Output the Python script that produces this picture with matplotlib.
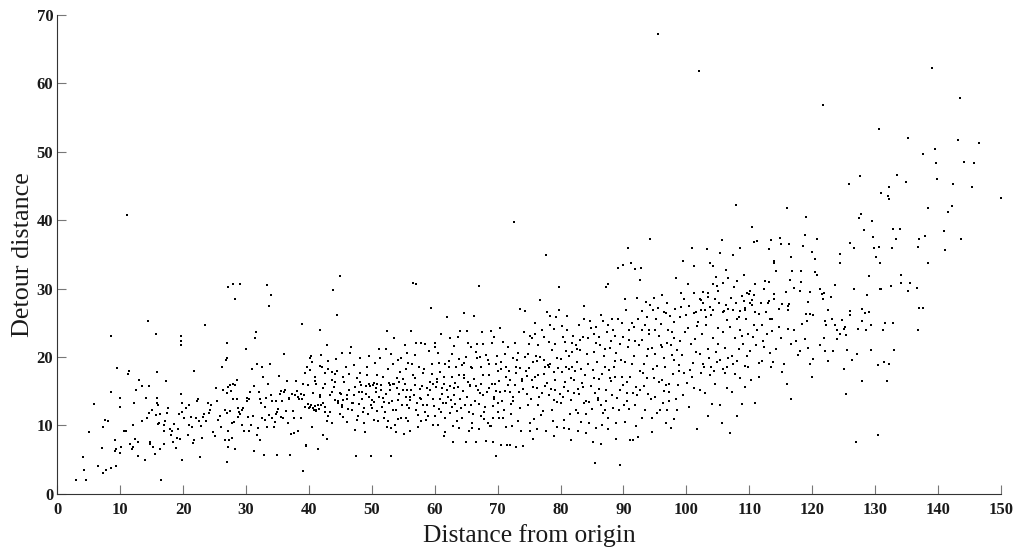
import matplotlib
matplotlib.use("Agg")
import matplotlib.pyplot as plt

plt.rcParams['font.family'] = ['Liberation Serif', 'DejaVu Serif']

# values, grouped by distance band
band_0_20 = [(2.9,2.0),(4.1,5.3),(4.2,3.5),(4.5,2.0),(5.1,9.0),(5.8,13.1),(6.5,4.0),(7.1,6.7),(7.3,3.1),(7.3,9.8),
 (7.6,10.8),(8.0,10.6),(7.8,3.5),(8.5,3.8),(8.6,23.0),(8.6,14.8),(9.1,7.8),(9.1,6.3),(9.4,6.5),(9.4,4.0),
 (9.5,18.4),(10.0,14.0),(10.0,12.7),(10.0,6.0),(10.2,6.8),(10.6,9.2),(11.0,9.2),(11.1,40.8),(11.2,17.5),(11.4,18.0),
 (11.5,7.2),(11.9,6.6),(12.0,10.0),(12.1,6.8),(12.2,13.2),(12.4,8.0),(12.5,15.2),(12.8,7.6),(12.9,5.5),(13.0,16.6),
 (13.4,10.7),(13.5,15.7),(13.9,5.0),(14.1,14.0),(14.3,11.0),(14.4,25.2),(14.5,15.8),(14.6,11.8),(14.8,7.6),(14.8,7.2),
 (15.0,12.3),(15.2,6.8),(15.6,5.8),(15.8,17.8),(16.0,10.2),(16.2,10.3),(16.3,6.6),(16.4,11.7),(16.5,2.0),(15.7,23.3),
 (15.7,11.5),(15.8,13.2),(15.9,14.0),(16.0,13.0),(16.9,7.3),(17.0,10.0),(17.0,9.2),(17.2,10.6),(17.5,11.8),(17.6,12.5),
 (17.3,16.5),(17.9,9.5),(18.0,8.6),(18.2,9.2),(18.4,7.6),(18.6,10.2),(18.9,6.7),(19.1,8.2),(19.2,9.5),(19.4,11.6),
 (19.5,8.0),(19.7,14.6),(19.8,12.0),(19.9,13.3),(19.7,23.0),(19.7,22.3),(19.7,21.7),(19.9,5.0)]
band_20_40 = [(20.2,11.0),(20.4,12.5),(20.7,8.6),(20.9,12.9),(21.0,10.0),(21.2,11.2),(21.4,9.8),(21.6,7.4),(21.7,7.8),(21.8,18.0),
 (22.0,11.0),(22.2,13.5),(22.4,13.9),(22.5,10.6),(22.7,5.4),(22.8,9.9),(23.0,8.2),(23.2,11.2),(23.4,11.6),(23.5,24.7),
 (23.7,10.7),(23.9,13.2),(24.1,11.8),(24.3,12.3),(24.5,13.0),(24.8,9.0),(25.0,8.5),(25.2,15.5),(25.4,13.5),(25.6,10.8),
 (25.8,11.4),(26.0,9.7),(26.2,18.5),(26.4,15.1),(26.6,7.9),(26.8,19.6),(26.9,22.0),(27.0,14.7),(27.1,6.8),(27.2,30.2),
 (27.3,7.8),(27.5,15.9),(27.7,8.1),(27.9,30.7),(28.0,13.8),(28.2,6.5),(28.3,28.4),(28.5,13.8),(28.7,11.2),(28.9,12.0),
 (29.1,30.6),(29.3,12.2),(29.4,10.0),(29.5,12.5),(29.7,9.2),(26.6,12.2),(26.9,11.8),(27.2,9.2),(27.5,12.1),(27.8,10.3),
 (28.1,10.5),(26.9,4.6),(27.0,19.8),(27.2,15.6),(27.6,15.0),(27.9,16.1),(28.2,15.9),(28.6,16.6),(28.8,12.5),(29.0,11.7),
 (30.0,21.2),(30.1,13.5),(30.2,14.0),(30.3,11.2),(30.4,9.2),(30.6,14.9),(30.8,10.0),(31.0,18.2),(31.2,15.8),(31.3,6.2),
 (31.5,22.8),(31.6,23.7),(31.7,8.6),(31.8,18.9),(32.0,14.9),(32.2,7.9),(32.4,13.3),(32.5,18.5),(32.7,17.0),(32.9,5.7),
 (33.0,10.8),(33.2,14.0),(33.3,30.5),(33.5,16.0),(33.6,27.4),(33.8,18.9),(33.9,14.5),(34.0,29.0),(34.2,11.0),(34.4,9.7),
 (34.6,10.5),(34.8,13.5),(34.9,12.0),(35.0,5.6),(35.2,17.2),(35.4,14.6),(35.5,11.2),(35.7,13.6),(35.9,11.0),(36.0,20.5),
 (36.2,15.2),(36.4,12.1),(36.6,10.3),(36.8,14.0),(37.0,5.7),(37.2,8.8),(37.4,12.1),(37.6,8.9),(37.8,14.5),(38.0,16.5),
 (38.1,15.0),(38.3,9.2),(38.5,13.9),(38.7,11.0),(38.9,24.8),(39.0,3.3),(39.2,14.5),(39.4,17.6),(39.6,7.0),(39.8,15.9),
 (32.6,11.1),(33.1,12.7),(33.4,9.8),(34.1,13.6),(34.7,11.7),(35.1,12.4),(35.6,15.0),(36.1,14.8),(36.5,16.5),(36.9,13.9),
 (37.3,14.6),(37.7,11.1),(38.2,14.2),(38.8,14.6),(39.5,7.1),(30.5,13.8),(31.1,11.4),(31.9,9.6),(32.3,13.8),(33.7,11.5)]
band_40_60 = [(40.1,19.9),(40.3,20.2),(40.5,9.8),(40.8,12.2),(41.0,16.5),(41.2,12.1),(41.5,6.5),(41.7,23.9),(41.9,12.9),(42.1,18.5),
 (42.3,8.6),(42.6,12.7),(42.8,8.0),(42.9,21.8),(43.1,19.4),(43.3,12.0),(43.6,17.8),(43.9,29.8),(44.2,17.5),(44.5,26.2),
 (44.7,13.2),(45.0,31.8),(45.2,12.9),(45.6,16.4),(45.9,18.6),(46.1,10.5),(46.4,17.5),(46.7,21.5),(47.0,13.2),(47.3,9.3),
 (47.5,5.5),(47.8,11.3),(48.1,19.9),(48.3,15.9),(48.6,12.0),(48.9,9.0),(49.2,17.4),(49.5,14.1),(49.8,5.5),(50.1,12.6),
 (40.6,12.6),(40.9,12.8),(41.1,12.3),(41.4,13.0),(41.8,14.4),(42.2,15.5),(42.5,11.9),(42.9,10.6),(43.3,14.4),(43.7,10.4),
 (44.1,16.3),(44.6,13.6),(45.1,14.6),(45.5,11.2),(46.0,13.9),(46.3,15.1),(46.8,12.2),(47.1,14.4),(47.6,10.8),(48.0,13.1),
 (48.4,14.9),(48.8,12.6),(49.0,15.8),(49.4,11.6),(49.7,15.8),(50.0,13.7),(50.3,16.2),(50.6,15.5),(51.0,10.6),(51.3,19.9),
 (51.5,15.9),(51.8,14.0),(52.1,12.0),(52.4,23.8),(52.7,16.2),(53.0,5.5),(53.2,13.5),(53.5,22.8),(53.8,9.0),(54.1,19.5),
 (54.4,16.3),(54.8,13.0),(55.1,8.7),(55.4,11.1),(55.7,19.1),(56.0,14.1),(56.3,23.8),(56.6,30.8),(57.0,30.6),(57.3,11.5),
 (57.6,14.0),(57.9,22.0),(58.2,13.0),(58.5,11.9),(58.8,15.4),(59.1,20.9),(59.4,27.2),(59.8,10.0),(60.1,21.4),(60.4,16.4),
 (50.7,14.8),(51.1,14.2),(51.6,12.7),(52.0,13.4),(52.6,10.7),(53.1,9.6),(53.4,16.0),(53.9,12.3),(54.3,14.6),(54.7,11.0),
 (55.0,16.7),(55.5,14.2),(55.9,12.6),(56.2,15.2),(56.8,16.9),(57.2,13.2),(57.7,15.3),(58.1,17.7),(58.6,10.8),(59.0,14.4),
 (59.5,17.5),(59.9,12.8),(50.2,15.9),(52.9,15.1),(54.0,15.4),(55.3,16.0),(56.5,17.3),(58.3,18.2),(59.2,16.4),(53.6,16.1),
 (51.9,11.1),(53.7,10.0),(55.8,10.6),(57.4,9.7),(58.9,11.3),(46.5,20.6),(47.2,18.8),(48.2,17.7),(49.3,18.6),(50.5,19.1),
 (52.2,21.2),(54.6,19.8),(55.2,21.7),(56.9,20.3),(58.4,21.9)]
band_60_80 = [(60.3,16.7),(60.6,20.6),(60.9,17.8),(61.1,15.4),(61.4,8.4),(61.6,9.0),(61.8,13.2),(62.0,25.8),(62.3,18.5),(62.6,13.7),
 (62.9,7.5),(63.2,16.2),(63.5,10.6),(63.8,19.7),(64.1,13.8),(64.4,18.8),(64.7,26.4),(65.0,7.5),(65.3,22.0),(65.6,15.7),
 (65.9,9.6),(66.2,16.7),(66.5,7.5),(66.8,21.9),(67.0,30.3),(67.3,16.0),(67.6,14.4),(67.9,12.0),(68.2,7.7),(68.5,19.5),
 (68.8,9.9),(69.1,22.0),(69.4,14.1),(69.7,5.5),(70.0,17.9),(70.3,11.0),(70.6,7.1),(70.9,22.2),(71.2,15.0),(71.5,7.1),
 (71.8,18.0),(72.1,13.1),(72.4,14.1),(72.6,39.8),(72.9,18.6),(73.2,10.7),(73.5,27.0),(73.8,16.5),(74.1,7.0),(74.4,26.7),
 (74.7,17.2),(75.0,21.9),(75.3,13.9),(75.6,8.0),(75.9,25.0),(76.2,19.4),(76.5,12.9),(76.8,28.3),(77.1,14.7),(77.4,17.5),
 (77.7,34.9),(78.0,18.8),(78.3,26.0),(78.6,12.3),(78.9,24.1),(79.2,16.6),(79.5,9.8),(79.8,30.2),(60.8,13.8),(61.3,13.2),
 (61.9,15.2),(62.4,11.8),(62.8,17.1),(63.3,13.1),(63.7,15.6),(64.2,12.6),(64.6,16.9),(65.1,14.1),(65.5,11.9),(66.0,18.4),
 (66.4,13.5),(66.9,15.1),(67.4,18.5),(67.8,10.9),(68.3,14.9),(68.7,17.4),(69.2,12.8),(69.6,16.1),(70.1,13.2),(70.5,19.3),
 (71.0,12.3),(71.4,17.0),(71.9,14.8),(72.2,11.7),(72.7,15.9),(73.1,19.6),(73.6,12.5),(74.0,15.3),(74.5,17.9),(74.9,13.0),
 (75.4,16.6),(75.8,10.9),(76.3,15.5),(76.7,20.0),(77.2,12.1),(77.6,18.6),(78.1,18.5),(78.5,15.3),(79.0,13.7),(79.4,19.8),
 (79.9,14.6),(60.5,10.1),(61.7,11.0),(63.0,21.6),(64.0,23.8),(65.2,23.8),(66.3,26.0),(67.5,23.6),(68.9,23.8),(70.4,24.3),
 (71.7,21.4),(72.8,22.0),(74.2,23.6),(75.5,22.7),(76.1,20.1),(77.0,24.0),(78.2,22.2),(79.3,25.9),(62.2,19.4),(64.9,20.0),
 (66.7,19.8),(68.1,20.3),(69.9,20.1),(71.1,20.4),(73.3,20.6),(74.8,20.4),(76.4,21.8),(78.7,21.0),(65.4,9.2),(67.1,9.4),
 (68.4,10.4),(69.0,9.9),(70.8,11.1),(72.3,9.9),(73.7,9.1),(75.1,10.4),(76.9,11.5),(78.8,10.7),(64.3,11.1),(66.1,11.7),
 (72.0,7.1),(69.3,7.5),(73.0,6.9),(75.2,9.1),(77.9,26.5),(79.7,26.8)]
band_80_100 = [(80.1,13.2),(80.4,22.9),(80.7,16.3),(81.0,26.0),(81.3,18.3),(81.6,7.8),(81.9,18.6),(82.2,14.7),(82.5,21.7),(82.8,11.8),
 (83.1,22.5),(83.4,16.2),(83.7,27.4),(84.0,13.5),(84.3,19.0),(84.6,10.4),(84.9,24.3),(85.2,7.6),(85.5,4.5),(85.8,19.2),
 (86.1,16.7),(86.4,7.3),(86.7,25.2),(87.0,12.3),(87.3,30.2),(87.6,30.7),(87.9,16.9),(88.2,25.6),(88.5,18.6),(88.8,10.3),
 (89.1,33.0),(89.4,4.2),(89.7,24.9),(90.0,33.5),(90.3,28.5),(90.6,14.7),(90.9,12.4),(91.2,33.7),(91.5,7.9),(91.8,22.3),
 (92.1,28.6),(92.4,8.3),(92.7,31.3),(93.0,26.7),(93.3,15.8),(93.6,28.0),(93.9,21.1),(94.2,37.2),(94.5,9.0),(94.8,28.6),
 (95.1,24.0),(95.5,67.2),(95.8,12.3),(96.1,21.5),(96.4,15.0),(96.7,26.4),(97.0,12.2),(97.3,13.5),(97.6,21.8),(97.9,17.5),
 (98.2,27.0),(98.5,12.3),(98.8,18.8),(99.1,29.3),(99.4,34.1),(99.7,28.4),(80.3,17.8),(80.9,20.9),(81.2,15.0),(81.8,20.7),
 (82.1,16.6),(82.7,19.3),(83.0,14.6),(83.6,22.9),(83.9,17.4),(84.2,20.4),(84.8,15.8),(85.1,18.1),(85.7,22.0),(86.0,14.0),
 (86.6,17.5),(86.9,20.1),(87.2,15.2),(87.8,21.3),(88.1,16.5),(88.7,19.4),(89.0,14.0),(89.6,19.6),(89.9,15.9),(90.2,19.3),
 (90.8,21.4),(91.1,17.1),(91.7,20.2),(92.0,15.6),(92.6,18.0),(92.9,22.5),(93.2,19.0),(93.8,16.9),(94.1,24.0),(94.7,18.2),
 (95.0,20.4),(95.6,16.3),(96.0,24.8),(96.6,18.5),(96.9,22.1),(97.2,16.1),(97.8,23.6),(98.1,19.5),(98.7,15.9),(99.0,22.4),
 (99.6,17.6),(80.6,10.8),(81.5,11.6),(82.4,12.2),(83.2,10.5),(84.1,11.6),(85.0,12.4),(85.9,13.7),(86.8,11.8),(87.5,11.1),
 (88.4,12.6),(89.3,12.2),(90.1,12.9),(91.0,7.9),(92.2,14.4),(93.5,12.3),(94.4,13.9),(95.3,11.8),(96.3,13.3),(97.5,9.6),
 (80.2,24.5),(81.1,23.9),(82.0,23.1),(82.9,24.6),(83.8,25.5),(84.7,25.2),(85.6,24.4),(86.5,26.1),(87.4,23.7),(88.3,24.0),
 (89.2,25.5),(90.4,26.8),(91.4,25.0),(92.3,25.6),(93.4,24.6),(94.3,27.6),(95.2,25.5),(96.2,29.0),(97.4,26.0),(98.4,31.5),
 (99.2,27.3),(91.9,32.9),(92.8,33.0),(90.7,35.9),(87.1,21.2),(88.0,22.3),(89.5,21.9),(94.0,23.3),(95.7,23.0),(97.1,24.0)]
band_100_120 = [(100.3,30.6),(100.9,36.0),(101.2,33.3),(101.2,29.3),(101.2,26.4),(101.6,26.6),(102.0,61.8),(102.1,28.4),(102.3,26.9),(102.4,28.3),
 (102.6,29.5),(102.9,26.8),(103.2,25.8),(103.3,35.8),(103.4,29.3),(103.4,28.7),(103.8,33.7),(104.0,26.2),(104.2,33.3),(104.2,30.6),
 (104.2,26.8),(104.7,31.7),(104.9,30.3),(105.1,29.6),(105.3,35.2),(105.6,37.1),(105.8,26.5),(105.9,30.8),(106.0,26.7),(106.3,32.7),
 (106.3,27.6),(106.6,31.5),(106.7,27.0),(107.4,34.9),(107.4,26.9),(107.6,30.2),(107.9,42.2),(108.0,31.1),(108.1,25.6),(108.3,25.9),
 (108.5,35.9),(108.6,26.7),(109.2,32.0),(109.2,28.2),(109.3,26.9),(109.4,27.1),(109.7,29.3),(110.0,29.2),(110.1,29.6),(110.1,27.9),
 (110.4,39.0),(110.4,28.3),(110.5,27.6),(110.8,36.8),(110.9,30.7),(111.0,26.5),(111.2,37.0),(111.5,26.3),(112.4,30.0),(112.5,31.1),
 (113.0,27.9),(113.1,35.8),(113.1,28.2),(113.2,30.9),(113.3,25.6),(113.5,37.1),(113.6,25.5),(114.0,34.1),(114.0,33.7),(114.0,29.2),
 (114.0,28.5),(114.3,32.6),(114.8,27.0),(114.9,37.4),(115.1,36.5),(115.2,27.7),(115.9,29.5),(116.0,41.8),(116.1,27.4),(116.2,26.9),
 (116.4,36.5),(116.4,27.8),(116.5,31.2),(116.6,34.6),(116.8,32.5),(117.1,30.1),(118.1,29.6),(118.2,32.5),(118.3,31.0),(118.6,36.2),
 (118.9,37.9),(119.0,40.5),(119.1,26.3),(119.2,25.2),(119.3,28.1),(119.6,26.3),(119.7,29.5),(100.3,24.2),(100.7,21.9),(101.0,19.1),
 (101.4,22.6),(101.7,24.5),(102.1,20.4),(102.5,23.3),(102.8,18.5),(103.1,24.7),(103.5,21.2),(103.9,18.6),(104.3,22.7),(104.7,20.7),
 (105.0,24.3),(105.4,19.6),(105.8,23.7),(106.2,21.3),(106.5,18.5),(106.9,24.4),(107.3,20.1),(107.7,22.7),(108.1,19.4),(108.6,24.0),
 (109.0,21.9),(109.4,18.7),(109.8,23.3),(110.2,20.9),(110.7,24.7),(111.1,21.7),(111.6,19.1),(112.0,24.6),(112.4,21.4),(112.8,23.3),
 (113.3,20.6),(113.7,23.8),(114.2,21.2),(114.7,24.4),(115.1,22.7),(115.6,18.9),(116.2,24.1),(116.6,21.9),(117.1,23.9),(117.5,22.4),
 (118.0,20.9),(118.4,24.8),(118.8,22.6),(119.3,21.3),(100.1,16.2),(100.5,12.7),(100.9,17.0),(101.3,15.5),(101.7,9.5),(102.2,15.1),
 (102.6,19.0),(103.0,14.7),(103.4,11.3),(103.8,17.4),(104.1,13.1),(104.5,16.0),(104.9,19.2),(105.3,13.0),(105.7,10.3),(106.1,17.6),
 (106.5,15.4),(106.9,8.9),(107.3,14.9),(107.7,17.5),(108.1,11.3),(108.5,16.9),(108.9,13.1),(109.3,15.6),(109.8,18.6),(110.3,16.6),
 (110.9,13.3),(111.5,17.1),(112.1,19.4),(113.4,18.6),(113.8,19.3),(115.2,17.8),(116.6,13.9),(116.0,16.1),(117.7,20.3),(119.6,18.9),
 (120.0,17.1),(120.2,19.7)]
band_120_150 = [(120.1,26.1),(120.0,35.3),(120.4,34.3),(120.4,32.4),(120.8,37.3),(120.8,32.0),(121.3,30.0),(121.5,29.2),(121.8,28.4),(121.8,56.9),
 (121.9,29.3),(122.1,25.3),(122.6,26.8),(123.0,28.7),(123.6,30.5),(123.7,24.6),(124.0,23.9),(124.4,35.0),(124.4,33.7),(125.1,24.1),
 (125.3,24.4),(125.4,23.2),(125.6,21.0),(125.9,45.3),(126.0,26.1),(126.1,36.6),(126.1,26.7),(126.6,36.0),(126.6,30.0),(127.0,7.6),
 (127.2,20.5),(127.5,40.3),(127.6,46.4),(127.7,40.9),(128.0,27.0),(128.0,25.3),(128.2,38.5),(128.4,26.4),(128.7,29.0),(129.1,31.8),
 (129.1,26.6),(129.5,39.9),(129.7,37.5),(129.8,35.9),(130.2,34.6),(130.4,8.6),(130.6,36.1),(130.8,33.8),(130.8,30.0),(130.6,53.3),
 (130.9,44.0),(131.0,30.0),(131.2,23.9),(131.6,25.0),(132.0,43.6),(132.3,44.8),(132.3,43.1),(132.5,30.3),(132.7,36.0),(132.9,38.7),
 (133.4,37.2),(133.5,46.6),(133.9,38.7),(134.1,30.8),(134.2,32.0),(134.9,45.6),(135.2,52.0),(135.2,29.6),(135.6,30.8),(136.6,30.1),
 (136.9,36.1),(136.9,23.9),(137.0,37.2),(137.0,27.2),(137.6,27.2),(137.7,49.7),(138.0,37.7),(138.4,33.7),(138.5,41.8),(139.0,62.2),
 (139.5,50.4),(139.7,48.3),(139.9,46.0),(141.0,38.4),(141.1,35.7),(141.6,41.2),(142.2,42.1),(142.4,45.3),(143.2,51.7),(143.5,57.9),
 (143.6,37.3),(144.1,48.5),(145.4,44.9),(145.8,48.3),(146.5,51.3),(150.0,43.2),(121.2,21.7),(121.9,22.8),(122.5,19.4),(123.3,20.9),
 (124.5,23.4),(125.0,18.2),(125.4,14.6),(122.0,20.8),(130.5,18.8),(131.5,19.2),(131.9,16.5),(132.3,19.0),(133.0,21.0),(128.0,16.5),
 (129.4,24.7),(132.9,24.9),(122.2,24.6),(123.2,25.6),(124.8,25.4),(127.3,24.1),(128.6,24.0),(129.3,21.0),(126.3,19.5),(123.9,22.6)]
# second pass over the dense middle of the cloud
dense_38_74 = [(39.1,16.1),(40.5,19.3),(39.7,18.6),(40.2,18.1),(41.0,17.1),(41.8,18.7),(42.6,17.6),(43.1,18.2),(43.6,16.6),(44.5,18.0),
 (45.5,17.1),(42.6,16.1),(41.2,16.1),(40.7,14.7),(41.8,14.2),(43.6,14.9),(45.0,14.7),(46.0,14.4),(44.2,13.7),(45.5,13.7),
 (46.8,13.2),(40.2,12.7),(39.4,12.7),(38.9,13.9),(42.3,13.2),(45.2,12.7),(48.1,16.4),(49.5,16.1),(50.8,16.1),(51.8,17.1),
 (52.9,15.9),(54.0,16.9),(55.6,15.2),(56.9,15.9),(58.2,17.6),(59.8,16.1),(61.4,17.1),(63.0,15.4),(64.6,17.4),(65.6,15.9),
 (67.2,14.7),(69.1,16.1),(70.4,14.9),(72.0,16.6),(73.0,17.6),(40.0,12.5),(40.4,12.9),(39.9,13.1),(41.6,12.4),(43.0,11.4),
 (44.0,15.6),(44.9,11.7),(46.2,12.4),(47.4,15.6),(47.9,14.8),(48.5,13.8),(49.1,14.6),(49.9,12.9),(50.4,13.4),(50.9,12.1),
 (51.4,15.1),(52.3,14.6),(52.8,13.2),(53.3,12.2),(54.2,13.7),(54.9,15.2),(55.6,12.9),(56.1,13.7),(56.7,14.5),(57.1,12.2),
 (57.8,13.9),(58.0,15.8),(58.7,13.0),(59.3,15.1),(59.7,13.9),(60.2,15.6),(60.7,12.4),(61.2,14.6),(61.5,16.1),(62.1,14.1),
 (62.5,15.7),(62.7,12.7),(63.1,14.5),(63.6,12.1),(63.9,17.4),(64.5,15.0),(64.8,12.9),(65.3,16.4),(65.8,13.0),(66.6,15.7),
 (67.0,13.1),(67.7,17.3),(68.0,12.7),(68.6,15.5),(69.5,13.9),(69.8,15.0),(70.2,16.5),(70.7,13.6),(71.3,18.6),(71.6,15.9),
 (72.5,13.5),(73.4,14.8),(73.9,16.7),(47.7,16.9),(50.9,17.4),(52.5,18.3),(53.3,18.9),(54.5,17.8),(55.4,18.3),(56.4,18.9),
 (57.5,18.6),(59.6,19.0),(60.7,19.1),(61.6,18.9),(62.7,20.4),(63.4,18.6),(64.7,19.1),(65.7,18.6),(66.5,20.7),(67.2,20.0),
 (68.6,19.0),(69.7,18.9),(70.6,18.3),(72.4,19.9),(73.5,18.4),(42.0,20.3),(44.3,19.7),(45.3,20.6),(49.6,20.2),(51.2,21.1),
 (53.0,20.4),(55.6,20.6),(57.0,22.1),(60.0,22.0),(61.0,23.3),(62.5,22.7),(63.7,22.9),(65.8,21.4),(67.6,21.9),(69.5,22.9),
 (48.7,10.3),(50.4,10.8),(52.4,9.8),(54.2,10.9),(56.1,9.2),(57.9,10.6),(60.0,11.3),(61.0,12.0),(62.9,9.9),(63.9,9.6),
 (66.0,10.4),(67.4,11.4),(69.2,11.0),(70.0,12.0),(71.3,9.8)]
dense_74_112 = [(74.3,20.0),(74.6,14.6),(75.7,19.3),(76.0,17.1),(76.6,14.1),(77.3,19.6),(77.8,16.2),(78.4,18.9),(78.9,17.8),(79.1,15.1),
 (79.6,18.4),(80.0,19.7),(80.5,15.6),(80.8,18.6),(81.4,20.1),(81.7,16.9),(82.3,18.0),(82.6,21.1),(83.3,18.3),(83.5,15.6),
 (84.4,18.9),(84.5,13.4),(85.3,16.9),(85.4,20.7),(86.2,15.3),(86.3,21.8),(87.0,18.6),(87.7,18.1),(88.6,17.1),(88.9,20.6),
 (89.8,17.1),(90.5,16.4),(90.9,22.5),(91.3,18.9),(91.6,14.7),(92.5,21.7),(93.1,17.6),(93.7,20.1),(94.6,21.3),(94.9,16.9),
 (95.4,18.7),(95.9,21.7),(96.5,19.9),(96.8,15.9),(97.7,20.3),(98.0,22.7),(98.6,21.0),(98.9,18.0),(99.3,20.3),(99.8,23.7),
 (75.0,18.4),(75.6,15.6),(76.4,17.3),(77.5,15.8),(78.2,14.5),(79.5,13.4),(80.4,14.1),(81.6,13.7),(82.8,15.3),(83.8,13.2),
 (85.5,14.7),(86.4,13.0),(87.3,13.5),(88.2,14.4),(89.4,15.2),(90.6,13.6),(91.8,12.9),(92.7,15.1),(93.9,14.6),(95.1,14.1),
 (96.2,16.6),(97.3,14.9),(98.3,13.9),(99.5,14.4),(75.2,23.1),(76.0,23.4),(77.3,22.9),(78.4,24.6),(79.1,21.9),(80.7,22.2),
 (81.8,22.0),(83.1,21.0),(84.3,22.7),(85.4,23.4),(86.2,22.9),(87.6,24.6),(88.6,23.1),(89.9,22.9),(90.9,23.9),(91.7,24.4),
 (92.9,23.9),(93.8,25.9),(94.7,26.9),(95.5,27.2),(96.4,26.6),(97.0,27.9),(98.0,25.1),(99.0,25.9),(99.9,26.2),(76.3,9.4),
 (77.7,9.1),(79.0,8.5),(80.5,9.6),(81.4,9.4),(82.8,9.1),(84.0,8.9),(85.7,9.6),(86.6,10.1),(87.6,9.4),(88.9,8.0),
 (90.2,10.5),(92.0,9.9),(93.0,11.1),(94.6,11.0),(96.7,10.4),(98.1,10.9),(100.6,18.1),(101.5,20.7),(102.4,17.6),(103.6,19.9),
 (104.4,18.0),(105.1,21.9),(105.9,18.3),(106.7,19.9),(107.5,18.9),(108.3,21.1),(108.9,23.1),(109.6,20.1),(110.6,22.9),(111.3,23.9),
 (112.2,22.3),(100.4,27.4),(101.9,25.1),(102.7,27.9),(103.7,27.3),(104.6,28.4),(105.2,27.9),(106.4,25.4),(107.1,28.6),(107.9,27.9),
 (108.8,28.9),(109.5,25.6),(110.8,29.0),(111.8,27.9),(112.7,26.6)]

bands = [band_0_20, band_20_40, band_40_60, band_60_80, band_80_100, band_100_120, band_120_150, dense_38_74, dense_74_112]
x_ticks = list(range(0, 151, 10))
y_ticks = list(range(0, 71, 10))

fig = plt.figure(figsize=(10.2, 5.49), dpi=100)
ax = fig.add_axes([57.3/1020, 1-493.7/549, (1000.8-57.3)/1020, (493.7-15)/549])
for band in bands:
    ax.plot([p[0] for p in band], [p[1] for p in band], ls='none', marker='s', ms=1.5, mew=0, color='black', clip_on=False)
ax.set_xlim(0, 150)
ax.set_ylim(0, 70)
ax.set_xticks(x_ticks)
ax.set_yticks(y_ticks)
ax.spines['top'].set_visible(False)
ax.spines['right'].set_visible(False)
ax.spines['left'].set_color('#333333')
ax.spines['bottom'].set_color('#333333')
ax.tick_params(direction='in', length=6.5, width=0.8, color='#777777', labelcolor='#1a1a1a')
ax.tick_params(axis='x', pad=6)
ax.tick_params(axis='y', pad=3)
for lab in ax.get_xticklabels() + ax.get_yticklabels():
    lab.set_fontsize(12)
    lab.set_fontweight('bold')
ax.set_xlabel('Distance from origin', fontsize=18.4, color='#1a1a1a', labelpad=4)
ax.set_ylabel('Detour distance', fontsize=18.8, color='#1a1a1a', labelpad=1.5)
fig.savefig('out.png', dpi=100)
